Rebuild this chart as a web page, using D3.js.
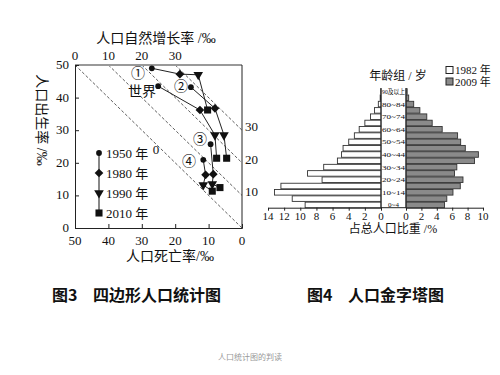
<!DOCTYPE html>
<html>
<head>
<meta charset="utf-8">
<script src="https://cdn.jsdelivr.net/npm/d3@7"></script>
<style>
  body { margin: 0; background: #fff; }
  text { font-family: "Liberation Serif", "Noto Sans CJK SC", serif; fill: #111; }
</style>
</head>
<body>
<svg id="chart" width="500" height="375"></svg>
<script>
// chart 3: [death rate, birth rate] for 1950, 1980, 1990, 2010
var years = ['1950 年', '1980 年', '1990 年', '2010 年'];
var regionNames = ['①', '世界', '②', '③', '④'];
var region1 = [[27, 49], [18.6, 47.2], [13.1, 47], [10.3, 36.2]];
var regionWorld = [[25.1, 43.5], [12.6, 36.2], [8.1, 28.5], [7.6, 21.4]];
var region2 = [[15.3, 43.2], [8.1, 36.7], [5.4, 28.5], [4.6, 21.4]];
var region3 = [[9.4, 25.7], [8.6, 16.5], [8.9, 13.5], [6.6, 12.4]];
var region4 = [[11.6, 20.9], [10.9, 16.3], [11.6, 13.2], [8.9, 11.3]];
var rateTicks = [0, 10, 20, 30, 40, 50];
var increaseTicks = [0, 10, 20, 30];

// chart 4: share of total population (%)
var ageGroups = ['0~4', '5~9', '10~14', '15~19', '20~24', '25~29', '30~34', '35~39',
  '40~44', '45~49', '50~54', '55~59', '60~64', '65~69', '70~74', '75~79', '80~84',
  '85~89', '90及以上'];
var share1982 = [9.4, 11.0, 13.2, 12.4, 7.3, 9.1, 7.1, 5.4, 4.9, 4.7, 4.0, 3.3, 2.7,
  2.0, 1.3, 0.8, 0.33, 0.1, 0.03];
var share2009 = [5.0, 5.3, 6.1, 7.05, 7.4, 6.3, 6.6, 8.9, 9.4, 7.7, 7.1, 6.7, 4.7,
  3.4, 2.7, 1.8, 1.0, 0.35, 0.15];
var leftTicks = [14, 12, 10, 8, 6, 4, 2, 0];
var rightTicks = [0, 2, 4, 6, 8, 10];

var svg = d3.select('#chart');

// ---------- chart 3 ----------
var x = d3.scaleLinear().domain([50, 0]).range([75, 242]);
var y = d3.scaleLinear().domain([0, 50]).range([228, 65]);
var g = svg.append('g');

// diagonal dashed lines of equal natural increase
increaseTicks.forEach(function(k) {
  g.append('line')
    .attr('x1', x(50 - k)).attr('y1', y(50))
    .attr('x2', x(0)).attr('y2', y(k))
    .attr('stroke', '#333').attr('stroke-width', 0.8)
    .attr('stroke-dasharray', '3,2');
});

// frame
g.append('line').attr('x1', x(50)).attr('x2', x(0)).attr('y1', y(50)).attr('y2', y(50))
  .attr('stroke', '#999').attr('stroke-width', 2);
g.append('line').attr('x1', x(0)).attr('x2', x(0)).attr('y1', y(50)).attr('y2', y(0))
  .attr('stroke', '#222').attr('stroke-width', 1);

var axB = g.append('g').attr('transform', 'translate(0,' + y(0) + ')')
  .call(d3.axisTop(x).tickValues(rateTicks).tickSize(4).tickFormat(''));
axB.selectAll('line, path').attr('stroke', '#222');
var axL = g.append('g').attr('transform', 'translate(' + x(50) + ',0)')
  .call(d3.axisRight(y).tickValues(rateTicks).tickSize(4).tickFormat(''));
axL.selectAll('line, path').attr('stroke', '#222');

g.selectAll('.xl').data(rateTicks).enter().append('text')
  .attr('x', function(d) { return x(d); }).attr('y', 245)
  .attr('text-anchor', 'middle').attr('font-size', 13).text(function(d) { return d; });
g.selectAll('.yl').data(rateTicks).enter().append('text')
  .attr('x', 69).attr('y', function(d) { return y(d) + 4; })
  .attr('text-anchor', 'end').attr('font-size', 13).text(function(d) { return d; });
// top axis (natural increase)
g.selectAll('.tl').data(increaseTicks).enter().append('text')
  .attr('x', function(d) { return x(50 - d); }).attr('y', 60)
  .attr('text-anchor', 'middle').attr('font-size', 13).text(function(d) { return d; });
// right axis (natural increase)
g.selectAll('.rl').data(increaseTicks.slice(1)).enter().append('text')
  .attr('x', 245).attr('y', function(d) { return y(d) + 1; })
  .attr('font-size', 13).text(function(d) { return d; });
g.append('text').attr('x', 156).attr('y', 43).attr('text-anchor', 'middle')
  .attr('font-size', 14).text('人口自然增长率 /‰');
g.append('text').attr('x', 170).attr('y', 261).attr('text-anchor', 'middle')
  .attr('font-size', 14).text('人口死亡率/‰');
g.append('text').attr('transform', 'translate(37,120) rotate(90)')
  .attr('text-anchor', 'middle').attr('font-size', 14).text('人口出生率 /‰');
g.append('text').attr('x', 156).attr('y', 154).attr('text-anchor', 'middle')
  .attr('font-size', 13).text('0');

// series
var symbols = [
  { type: d3.symbolCircle, size: 26, rot: 0 },
  { type: d3.symbolSquare, size: 38, rot: 45 },
  { type: d3.symbolTriangle, size: 40, rot: 180 },
  { type: d3.symbolSquare, size: 50, rot: 0 }
];
function drawMarks(pts, px, py) {
  pts.forEach(function(p, i) {
    var s = symbols[i];
    g.append('path')
      .attr('d', d3.symbol().type(s.type).size(s.size)())
      .attr('transform', 'translate(' + px(p) + ',' + py(p) + ') rotate(' + s.rot + ')')
      .attr('fill', '#111');
  });
}
var line = d3.line().x(function(d) { return x(d[0]); }).y(function(d) { return y(d[1]); });
var allRegions = [region1, regionWorld, region2, region3, region4];
allRegions.forEach(function(r) {
  g.append('path').attr('d', line(r)).attr('fill', 'none')
    .attr('stroke', '#222').attr('stroke-width', 1);
});
allRegions.forEach(function(r) {
  drawMarks(r, function(p) { return x(p[0]); }, function(p) { return y(p[1]); });
});
var labelPos = [[138, 78], [142, 96], [181, 91], [200, 144], [189, 166]];
regionNames.forEach(function(n, i) {
  g.append('text').attr('x', labelPos[i][0]).attr('y', labelPos[i][1])
    .attr('text-anchor', 'middle').attr('font-size', 14).text(n);
});

// legend
var legY = d3.scalePoint().domain(years).range([153, 213]);
g.append('line').attr('x1', 99).attr('x2', 99).attr('y1', legY(years[0])).attr('y2', legY(years[3]))
  .attr('stroke', '#888').attr('stroke-width', 2);
drawMarks(years, function() { return 99; }, function(d) { return legY(d); });
g.selectAll('.lg').data(years).enter().append('text')
  .attr('x', 106).attr('y', function(d) { return legY(d) + 5; })
  .attr('font-size', 13).text(function(d) { return d; });

// ---------- chart 4 ----------
var p = svg.append('g');
var xl = d3.scaleLinear().domain([0, 14]).range([381, 268]);
var xr = d3.scaleLinear().domain([0, 10]).range([406, 483]);
var yb = d3.scaleBand().domain(ageGroups).range([207.7, 88.7]).paddingInner(0.12);

p.selectAll('.b82').data(ageGroups).enter().append('rect')
  .attr('x', function(d, i) { return xl(share1982[i]); })
  .attr('y', function(d) { return yb(d); })
  .attr('width', function(d, i) { return xl(0) - xl(share1982[i]); })
  .attr('height', yb.bandwidth())
  .attr('fill', '#fff').attr('stroke', '#333').attr('stroke-width', 0.9);
p.selectAll('.b09').data(ageGroups).enter().append('rect')
  .attr('x', xr(0))
  .attr('y', function(d) { return yb(d); })
  .attr('width', function(d, i) { return xr(share2009[i]) - xr(0); })
  .attr('height', yb.bandwidth())
  .attr('fill', '#8a8a8a').attr('stroke', '#333').attr('stroke-width', 0.9);

p.append('line').attr('x1', xl(0)).attr('x2', xl(0)).attr('y1', 88).attr('y2', 207.7)
  .attr('stroke', '#222');
p.append('line').attr('x1', xr(0)).attr('x2', xr(0)).attr('y1', 88).attr('y2', 207.7)
  .attr('stroke', '#222');

p.append('g').attr('transform', 'translate(0,207.7)')
  .call(d3.axisBottom(xl).tickValues(leftTicks).tickSize(3).tickSizeOuter(0).tickFormat(''));
p.append('g').attr('transform', 'translate(0,207.7)')
  .call(d3.axisBottom(xr).tickValues(rightTicks).tickSize(3).tickSizeOuter(0).tickFormat(''));
p.selectAll('.domain, .tick line').attr('stroke', '#222');
p.append('line').attr('x1', xl(0)).attr('x2', xr(0)).attr('y1', 207.7).attr('y2', 207.7)
  .attr('stroke', '#222');

p.selectAll('.pl').data(leftTicks).enter().append('text')
  .attr('x', function(d) { return xl(d); }).attr('y', 220)
  .attr('text-anchor', 'middle').attr('font-size', 11).text(function(d) { return d; });
p.selectAll('.pr').data(rightTicks).enter().append('text')
  .attr('x', function(d) { return xr(d); }).attr('y', 220)
  .attr('text-anchor', 'middle').attr('font-size', 11).text(function(d) { return d; });

p.selectAll('.age').data(ageGroups.filter(function(d, i) { return i % 2 === 0; }))
  .enter().append('text')
  .attr('x', 393.5).attr('y', function(d) { return yb(d) + yb.bandwidth() / 2 + 2.5; })
  .attr('text-anchor', 'middle').attr('font-size', 7)
  .attr('textLength', function(d) { return d.length > 4 ? 23 : null; })
  .attr('lengthAdjust', 'spacingAndGlyphs')
  .text(function(d) { return d; });

p.append('text').attr('x', 393).attr('y', 233).attr('text-anchor', 'middle')
  .attr('font-size', 12).text('占总人口比重 /%');
p.append('text').attr('x', 398).attr('y', 80).attr('text-anchor', 'middle')
  .attr('font-size', 12).text('年龄组 / 岁');
p.append('rect').attr('x', 446).attr('y', 66.5).attr('width', 7).attr('height', 7)
  .attr('fill', '#fff').attr('stroke', '#222');
p.append('rect').attr('x', 446).attr('y', 78).attr('width', 7).attr('height', 7)
  .attr('fill', '#8a8a8a').attr('stroke', '#222');
p.append('text').attr('x', 455).attr('y', 74).attr('font-size', 11).text('1982 年');
p.append('text').attr('x', 455).attr('y', 86).attr('font-size', 11).text('2009 年');

// ---------- captions ----------
[['图3', 52], ['四边形人口统计图', 93], ['图4', 307], ['人口金字塔图', 348]].forEach(function(c) {
  svg.append('text').attr('x', c[1]).attr('y', 301).attr('font-size', 16)
    .attr('font-weight', 'bold').style('font-family', '"Noto Sans CJK SC", sans-serif')
    .text(c[0]);
});
svg.append('text').attr('x', 250).attr('y', 360).attr('text-anchor', 'middle')
  .attr('font-size', 8).style('fill', '#999').text('人口统计图的判读');
</script>
</body>
</html>
